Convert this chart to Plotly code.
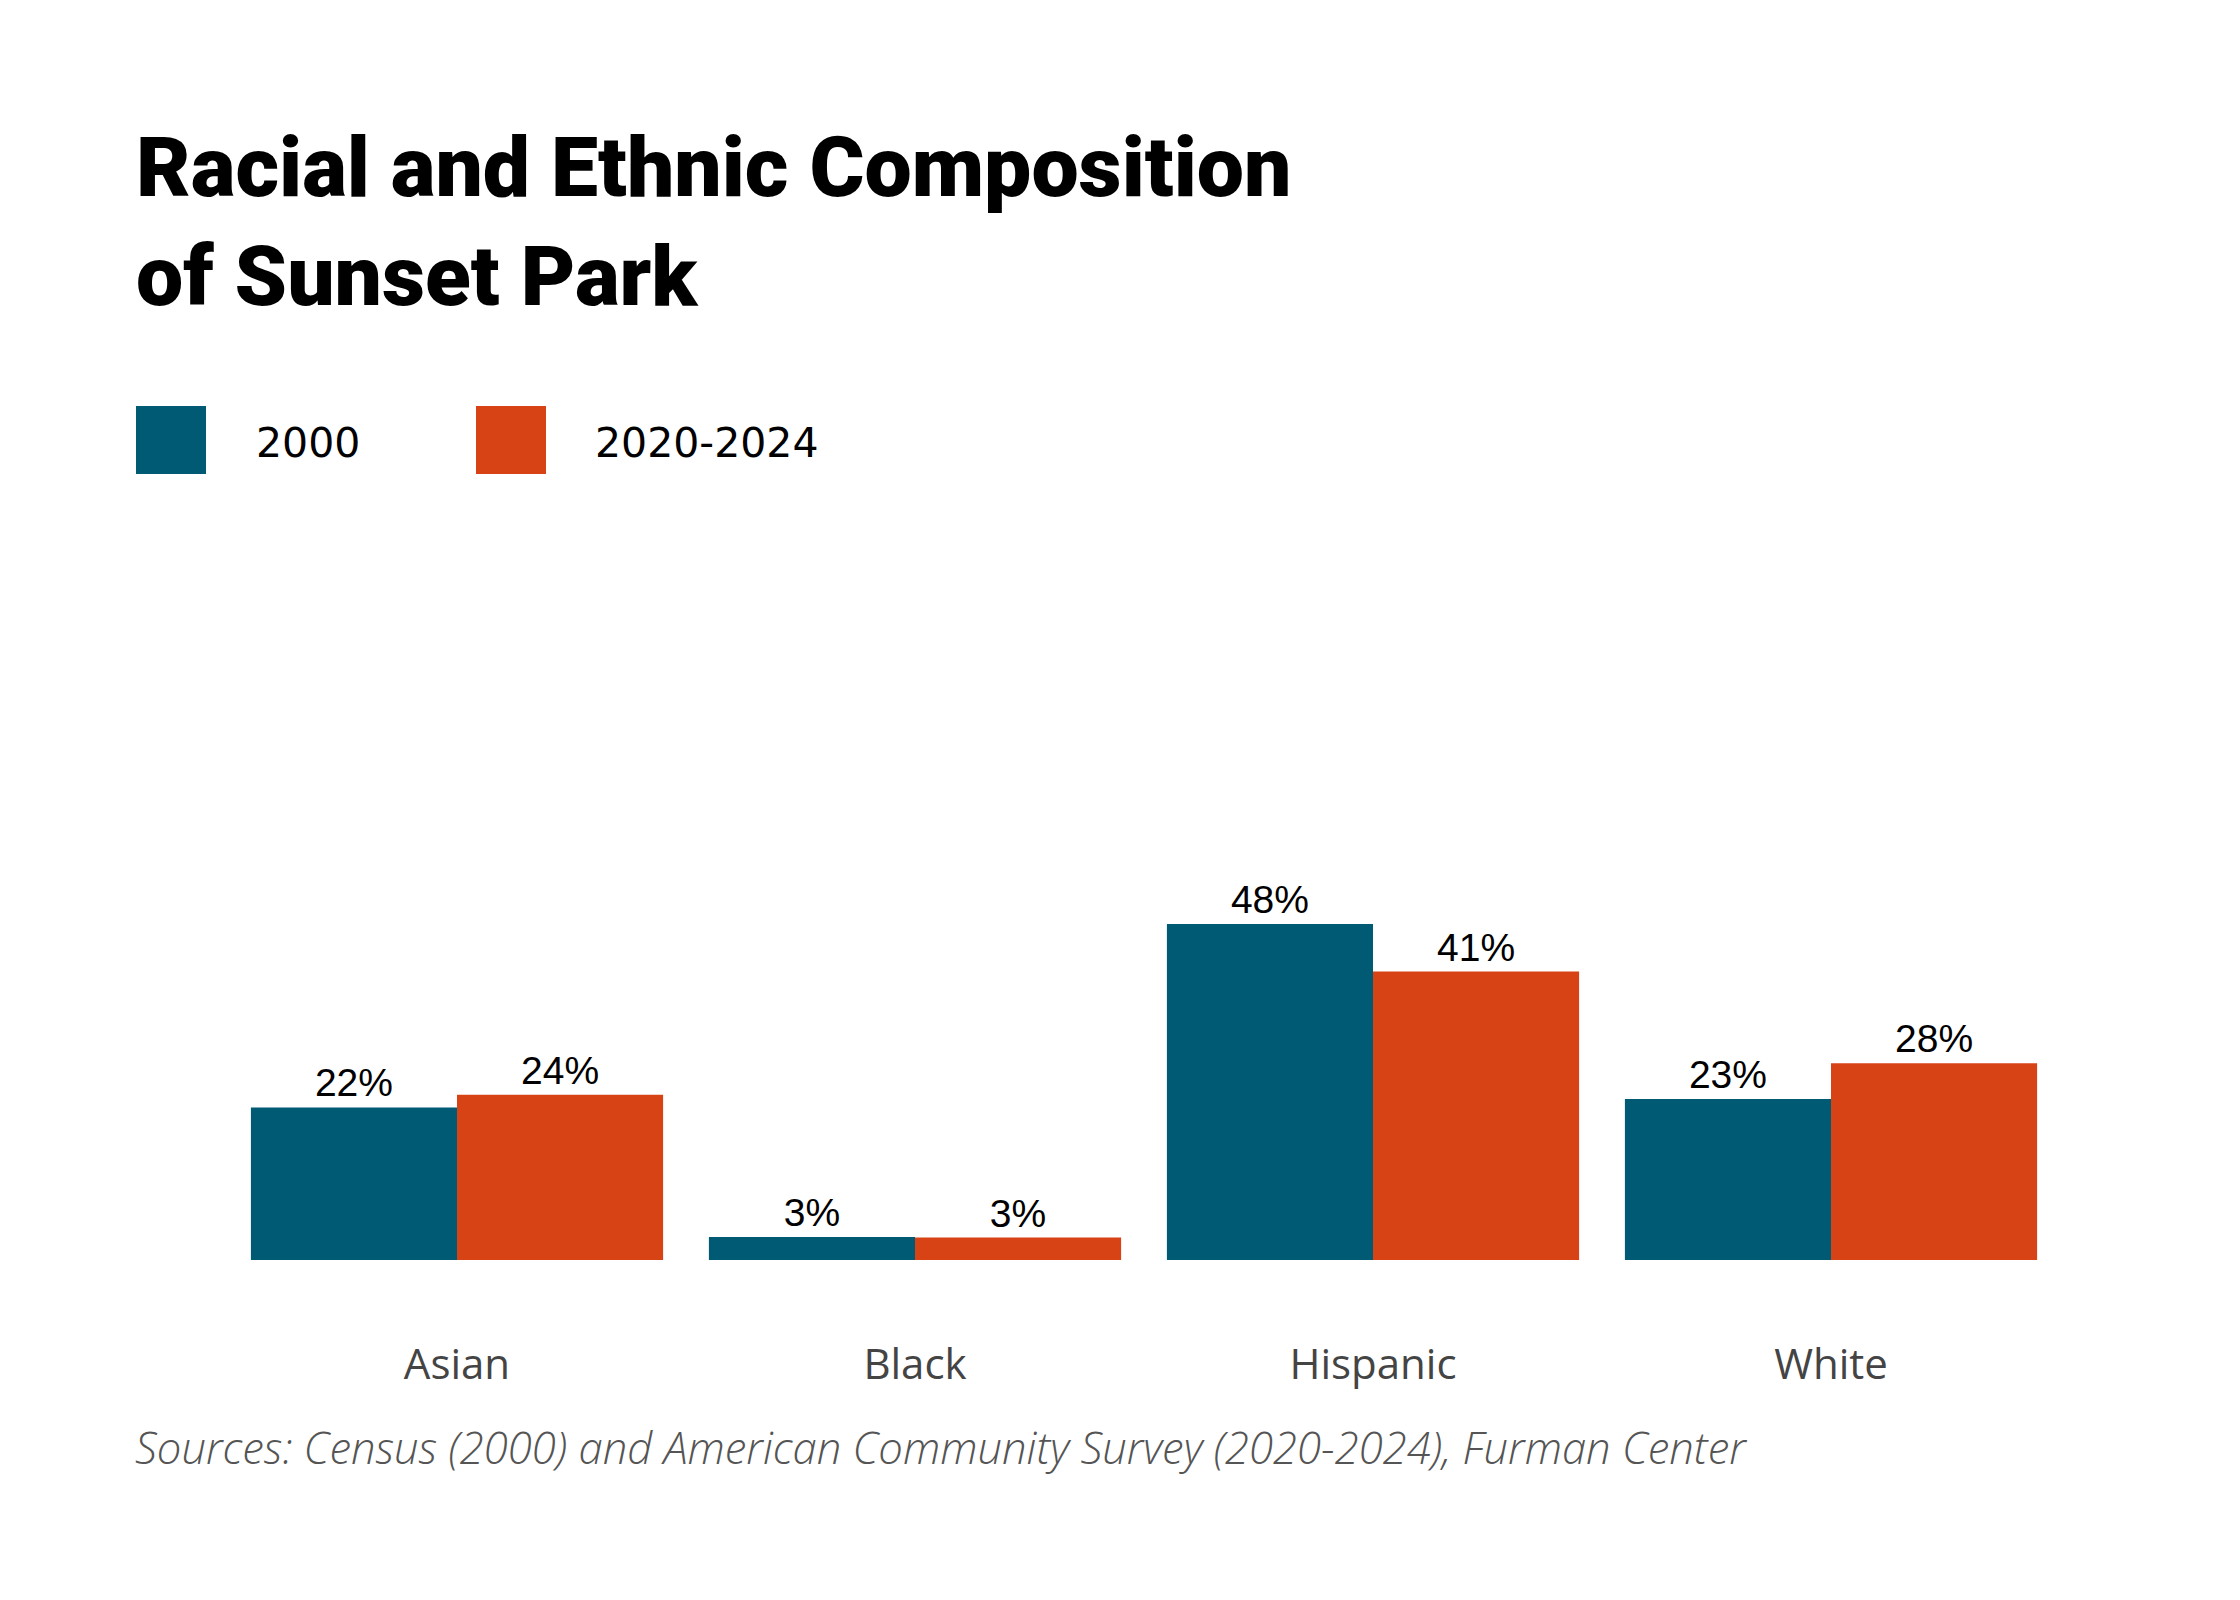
import plotly.graph_objects as go

categories = ["Asian", "Black", "Hispanic", "White"]
series_names = ["2000", "2020-2024"]
values_2000 = [21.8, 3.3, 48.0, 23.0]
values_2020 = [23.6, 3.2, 41.2, 28.1]
labels_2000 = ["22%", "3%", "48%", "23%"]
labels_2020 = ["24%", "3%", "41%", "28%"]

BLUE = "#005a74"
ORANGE = "#d84315"

W, H = 2240, 1600
OFF = 8  # page body margin offset
ML, MR, MT, MB = 228 - OFF, 180 + OFF, 840 - OFF, 340 + OFF
PW, PH = W - ML - MR, H - MT - MB


def px_x(x):
    return (x - OFF - ML) / PW


def px_y(y):
    return (H - MB - (y - OFF)) / PH


fig = go.Figure()
fig.add_trace(go.Bar(name=series_names[0], x=categories, y=values_2000, text=labels_2000,
                     marker=dict(color=BLUE, line=dict(width=0)), textposition="outside",
                     textfont=dict(family="Liberation Sans, Arial", size=39, color="#000"),
                     cliponaxis=False, hoverinfo="skip"))
fig.add_trace(go.Bar(name=series_names[1], x=categories, y=values_2020, text=labels_2020,
                     marker=dict(color=ORANGE, line=dict(width=0)), textposition="outside",
                     textfont=dict(family="Liberation Sans, Arial", size=39, color="#000"),
                     cliponaxis=False, hoverinfo="skip"))

shapes = []
annotations = []
legend_items = [(series_names[0], BLUE, 136, 254), (series_names[1], ORANGE, 476, 593)]
for name, col, sx, tx in legend_items:
    shapes.append(dict(type="rect", xref="paper", yref="paper",
                       x0=px_x(sx), x1=px_x(sx + 70), y0=px_y(474), y1=px_y(406),
                       fillcolor=col, line=dict(width=0)))
    annotations.append(dict(text=name, xref="paper", yref="paper", x=px_x(tx), y=px_y(443),
                            xanchor="left", yanchor="middle", showarrow=False,
                            font=dict(family="DejaVu Sans", size=41, color="#000")))

annotations.append(dict(text="Sources: Census (2000) and American Community Survey (2020-2024), Furman Center",
                        xref="paper", yref="paper", x=px_x(133), y=px_y(1447),
                        xanchor="left", yanchor="middle", showarrow=False,
                        font=dict(family="Open Sans", size=43.6, color="#555", style="italic", weight=300)))

fig.update_layout(
    width=W, height=H,
    margin=dict(l=ML, r=MR, t=MT, b=MB, pad=0),
    paper_bgcolor="white", plot_bgcolor="white",
    barmode="group", bargap=0.1, bargroupgap=0,
    showlegend=False,
    title=dict(text="Racial and Ethnic Composition<br>of Sunset Park",
               xref="container", yref="container", x=(136 - OFF) / W, y=1 - 188 / H,
               xanchor="left", yanchor="top",
               font=dict(family="Roboto", size=84, color="#000", weight=900)),
    xaxis=dict(showgrid=False, showline=False, zeroline=False, ticks="",
               tickfont=dict(family="Open Sans", size=42, color="#444"),
               ticklabelstandoff=76),
    yaxis=dict(range=[0, 60], visible=False, showgrid=False, zeroline=False),
    shapes=shapes, annotations=annotations,
)

fig.write_html("out.html")
